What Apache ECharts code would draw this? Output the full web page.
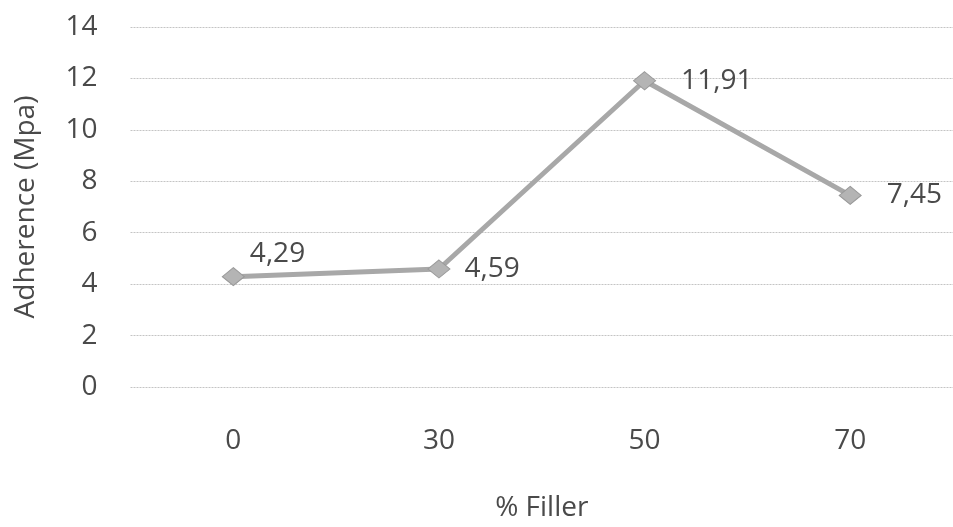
<!DOCTYPE html>
<html><head><meta charset="utf-8">
<script src="https://cdn.jsdelivr.net/npm/echarts@6/dist/echarts.min.js"></script>
<style>html,body{margin:0;padding:0;background:#fff}#c{width:953px;height:527px}</style>
</head><body><div id="c"></div>
<script>
const categories = ['0', '30', '50', '70'];
const adherence = [4.29, 4.59, 11.91, 7.45];
const FONT = '"Open Sans", sans-serif';
const labelStyles = [
  { position: 'right', distance: 5, offset: [0, -23] },
  { position: 'right', distance: 14, offset: [0, 0] },
  { position: 'right', distance: 25, offset: [0, 0] },
  { position: 'right', distance: 25, offset: [0, 0] }
];
const chart = echarts.init(document.getElementById('c'));
chart.setOption({
  animation: false,
  backgroundColor: '#fff',
  grid: { left: 130.5, right: -5.5, top: 27, bottom: 135 },
  xAxis: {
    type: 'category', data: categories, boundaryGap: true,
    axisLine: { show: false }, axisTick: { show: false },
    axisLabel: { fontFamily: FONT, fontSize: 28, color: '#4a4a4a', margin: 40 },
    name: '% Filler', nameLocation: 'middle', nameGap: 107,
    nameTextStyle: { fontFamily: FONT, fontSize: 28, color: '#4a4a4a' }
  },
  yAxis: {
    type: 'value', min: 0, max: 14, interval: 2,
    axisLine: { show: false }, axisTick: { show: false },
    axisLabel: { fontFamily: FONT, fontSize: 28, color: '#4a4a4a', margin: 33 },
    splitLine: { lineStyle: { color: '#c4c4c4', width: 1, type: [2, 1] } },
    name: 'Adherence (Mpa)', nameLocation: 'middle', nameGap: 90,
    nameTextStyle: { fontFamily: FONT, fontSize: 28, color: '#4a4a4a' }
  },
  series: [{
    type: 'line',
    data: adherence.map((v, i) => ({ value: v, label: labelStyles[i] })),
    symbol: 'diamond', symbolSize: [22, 18],
    lineStyle: { color: '#a8a8a8', width: 5 },
    itemStyle: { color: '#b4b4b4', borderColor: '#999', borderWidth: 1 },
    label: {
      show: true, fontFamily: FONT, fontSize: 28, color: '#4a4a4a',
      formatter: p => String(p.value).replace('.', ',')
    }
  }]
});
</script></body></html>
